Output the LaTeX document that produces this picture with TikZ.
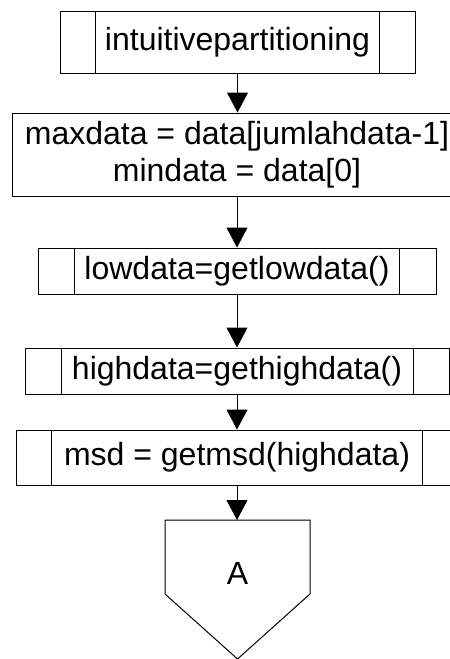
\documentclass[tikz,border=0pt]{standalone}
\usepackage{fontspec}
\setmainfont{Liberation Sans}
\usetikzlibrary{arrows.meta}
% vertical bars of a predefined-process box, #2 in from each side
\newcommand\procbars[2]{%
  \draw[line width=1pt] ([xshift=#2]#1.north west) -- ([xshift=#2]#1.south west)
    ([xshift=-#2]#1.north east) -- ([xshift=-#2]#1.south east);}
\begin{document}
\begin{tikzpicture}[x=1pt,y=-1pt,
  box/.style={draw, line width=1pt, inner sep=0pt, align=center,
    font=\fontsize{32}{37}\selectfont},
  flow/.style={line width=1pt, -{Triangle[length=20pt,width=21pt]}},
  ]
\useasboundingbox (0,0) rectangle (450,659);
\clip (0,0) rectangle (450,659);

\node[box, minimum width=355, minimum height=62] (p1) at (237.5,42) {intuitivepartitioning};
\procbars{p1}{36}

\node[box, minimum width=450, minimum height=83] (p2) at (237,154.5)
  {maxdata = data[jumlahdata-1]\\mindata = data[0]};

\node[box, minimum width=398, minimum height=46] (p3) at (237,271) {lowdata=getlowdata()};
\procbars{p3}{37}

\node[box, minimum width=424, minimum height=46] (p4) at (237,371) {highdata=gethighdata()};
\procbars{p4}{36.5}

\node[box, minimum width=442, minimum height=55] (p5) at (237,457.5) {msd = getmsd(highdata)};
\procbars{p5}{36}

% off-page connector
\coordinate (ctop) at (237.5,520);
\draw[line width=1pt] (165,520) -- (310,520) -- (310,594) -- (237.5,659) -- (165,594) -- cycle;
\node[font=\fontsize{32}{37}\selectfont, inner sep=0pt] (pA) at (237.5,573) {A};

\draw[flow] (p1.south) -- (p1.south |- p2.north);
\draw[flow] (p2.south) -- (p3.north);
\draw[flow] (p3.south) -- (p4.north);
\draw[flow] (p4.south) -- (p5.north);
\draw[flow] (p5.south) -- (p5.south |- ctop);
\end{tikzpicture}
\end{document}
